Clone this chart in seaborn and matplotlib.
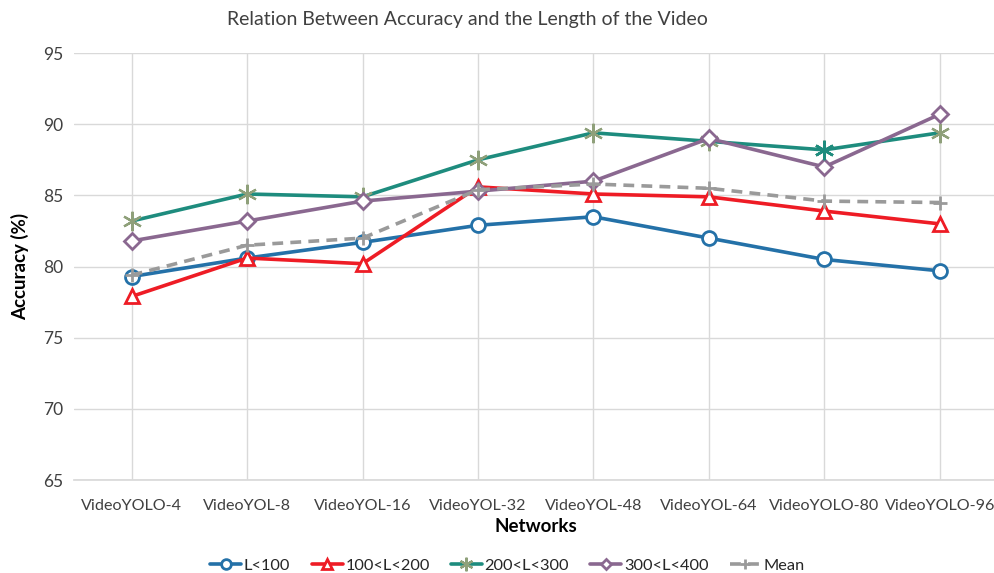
import numpy as np
import pandas as pd
import seaborn as sns
import matplotlib.pyplot as plt

# values
networks = ["VideoYOLO-4", "VideoYOL-8", "VideoYOL-16", "VideoYOL-32",
            "VideoYOL-48", "VideoYOL-64", "VideoYOLO-80", "VideoYOLO-96"]
acc_lt100 = [79.3, 80.6, 81.7, 82.9, 83.5, 82.0, 80.5, 79.7]
acc_100_200 = [77.9, 80.6, 80.2, 85.6, 85.1, 84.9, 83.9, 83.0]
acc_200_300 = [83.2, 85.1, 84.9, 87.5, 89.4, 88.8, 88.2, 89.4]
acc_300_400 = [81.8, 83.2, 84.6, 85.3, 86.0, 89.0, 87.0, 90.7]
acc_mean = [79.4, 81.5, 82.0, 85.4, 85.8, 85.5, 84.6, 84.5]

sns.set_theme(style="white")
plt.rcParams['font.family'] = ['Lato', 'DejaVu Sans']

fig = plt.figure(figsize=(9.95, 5.73), dpi=100)
ax = fig.add_axes([0.0744, 0.1623, 0.928, 0.745])

# label, values, line colour, marker, marker edge colour, dashes
series = [
    ("L<100", acc_lt100, "#2471A8", "o", "#2471A8", ""),
    ("100<L<200", acc_100_200, "#EE1C25", "^", "#EE1C25", ""),
    ("200<L<300", acc_200_300, "#1E8C7E", (6, 2, 0), "#8FA07A", ""),
    ("300<L<400", acc_300_400, "#8A6890", "D", "#8A6890", ""),
    ("Mean", acc_mean, "#9A9A9A", "+", "#9A9A9A", (3, 2)),
]

sizes = {"o": 10, "^": 10, "D": 8, "+": 10}
for label, vals, color, marker, mec, dash in series:
    sns.lineplot(x=networks, y=vals, ax=ax, color=color, lw=2.6, label=label,
                 marker=marker, markersize=sizes.get(marker, 14),
                 markerfacecolor="white" if marker in ("o", "^", "D") else mec,
                 markeredgecolor=mec, markeredgewidth=2 if marker != (6, 2, 0) else 1.6,
                 dashes=dash if dash else (None, None),
                 sort=False, zorder=3)

# the asterisk at VideoYOLO-80 is in line colour
ax.plot(6, acc_200_300[6], marker=(6, 2, 0), markersize=14, color="#1E8C7E",
        markeredgewidth=1.8, zorder=4)

ax.set_xlim(-0.5, 7.5)
ax.set_ylim(65, 95)
ax.set_yticks(np.arange(65, 96, 5))
ax.grid(True, color="#D9D9D9", lw=1)
for s in ["top", "right", "left"]:
    ax.spines[s].set_visible(False)
ax.spines["bottom"].set_color("#D9D9D9")
ax.tick_params(axis="y", labelsize=12.5, colors="#404040", length=0, pad=8)
ax.tick_params(axis="x", labelsize=11.6, colors="#404040", length=0, pad=14)

ax.set_xlabel("Networks", fontsize=13.5, fontweight="bold", color="black", labelpad=3)
ax.set_ylabel("Accuracy (%)", fontsize=13.5, fontweight="bold", color="black", labelpad=10)
fig.suptitle("Relation Between Accuracy and the Length of the Video",
             fontsize=14, color="#404040", x=0.47, y=0.98)

handles, labels = ax.get_legend_handles_labels()
ax.get_legend().remove()
fig.legend(handles, labels, loc="lower center", bbox_to_anchor=(0.51, -0.025), ncol=5,
           frameon=False, fontsize=11.8, handlelength=1.9, columnspacing=1.3,
           handletextpad=0.15, markerscale=0.7)

fig.savefig("out.png", dpi=100)
